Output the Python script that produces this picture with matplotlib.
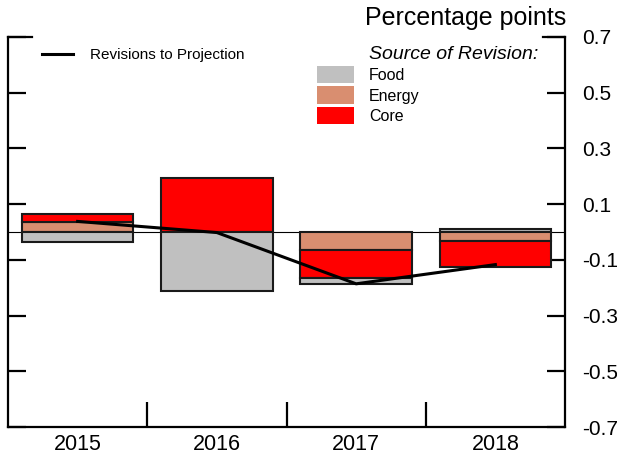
import matplotlib
matplotlib.use("Agg")
import matplotlib.pyplot as plt
from matplotlib.lines import Line2D
from matplotlib.patches import Patch
import numpy as np

plt.rcParams['font.family'] = ['Liberation Sans', 'DejaVu Sans']

years = ["2015", "2016", "2017", "2018"]
food = [-0.036, -0.212, -0.020, 0.010]
energy = [0.036, 0.0, -0.065, -0.034]
core = [0.030, 0.195, -0.101, -0.093]
revisions = [0.038, -0.002, -0.186, -0.117]

colors = {"Food": "#c0c0c0", "Energy": "#d98e70", "Core": "#ff0000"}
series = {"Food": food, "Energy": energy, "Core": core}
pos_order = ["Food", "Energy", "Core"]
neg_order = ["Energy", "Core", "Food"]

fig = plt.figure(figsize=(6.17, 4.61), dpi=100)
ax = fig.add_axes([8 / 617, 34 / 461, 557 / 617, 390 / 461])

x = np.arange(len(years)) + 0.5
width = 0.8

# stack positives up from zero, negatives down from zero
for i in range(len(years)):
    top = 0.0
    for name in pos_order:
        v = series[name][i]
        if v > 0:
            ax.bar(x[i], v, width, bottom=top, color=colors[name],
                   edgecolor="#1a1a1a", linewidth=1.5, zorder=2)
            top += v
    bot = 0.0
    for name in neg_order:
        v = series[name][i]
        if v < 0:
            ax.bar(x[i], v, width, bottom=bot, color=colors[name],
                   edgecolor="#1a1a1a", linewidth=1.5, zorder=2)
            bot += v

ax.axhline(0, color="black", linewidth=0.8, zorder=1)
ax.plot(x, revisions, color="black", linewidth=2.2, zorder=4)

ax.set_xlim(0, 4)
ax.set_ylim(-0.7, 0.7)

ax.spines["top"].set_visible(False)
for s in ["left", "right", "bottom"]:
    ax.spines[s].set_linewidth(1.6)

yt = [0.7, 0.5, 0.3, 0.1, -0.1, -0.3, -0.5, -0.7]
ax.set_yticks(yt)
ax.set_yticklabels(["%.1f" % v for v in yt])
ax.yaxis.set_ticks_position("both")
ax.tick_params(axis="y", direction="in", length=13, width=1.6,
               labelleft=False, labelright=True, labelsize=15, pad=12)

ax.set_xticks([1, 2, 3])
ax.set_xticklabels([])
ax.set_xticks(x, minor=True)
ax.set_xticklabels(years, minor=True)
ax.tick_params(axis="x", which="major", direction="in", length=18, width=1.6)
ax.tick_params(axis="x", which="minor", length=0, labelsize=15.5, pad=5)

# longer caps at the top of both vertical axes
ax.plot([0, 24 / 557], [1, 1], color="black", linewidth=1.6,
        transform=ax.transAxes, clip_on=False)
ax.plot([1 - 22 / 557, 1], [1, 1], color="black", linewidth=1.6,
        transform=ax.transAxes, clip_on=False)

leg1 = ax.legend(handles=[Line2D([], [], color="black", linewidth=2.2)],
                 labels=["Revisions to Projection"], loc="center left",
                 bbox_to_anchor=(0.061, 0.954), frameon=False, fontsize=11,
                 handlelength=2.05, handletextpad=1.1, borderpad=0, borderaxespad=0)
ax.add_artist(leg1)

handles = [Patch(facecolor=colors[n], edgecolor="none") for n in pos_order]
ax.legend(handles=handles, labels=pos_order, loc="upper left",
          bbox_to_anchor=(0.555, 0.926), frameon=False, fontsize=11.5,
          handlelength=2.3, handleheight=1.3, handletextpad=0.95,
          labelspacing=0.2, borderpad=0, borderaxespad=0)

ax.text(0.648, 0.954, "Source of Revision:", transform=ax.transAxes,
        fontsize=14, style="italic", ha="left", va="center")

fig.text(566 / 617, 1 - 18 / 461, "Percentage points", fontsize=18,
         ha="right", va="center")

fig.savefig("out.png", dpi=100)
